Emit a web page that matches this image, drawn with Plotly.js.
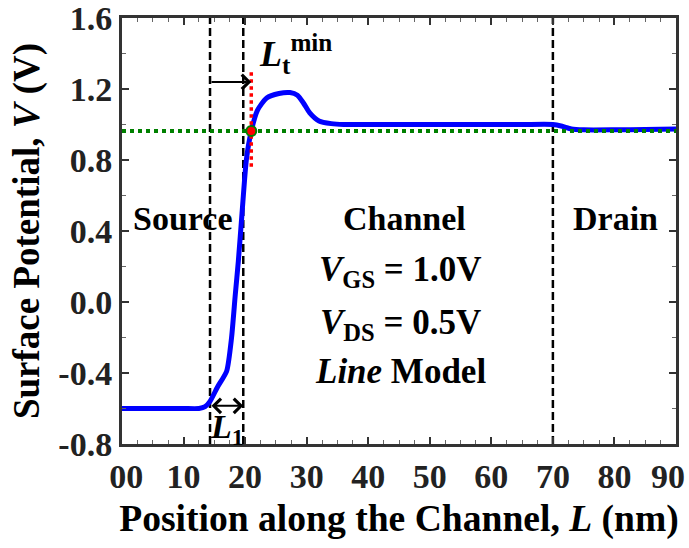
<!DOCTYPE html>
<html>
<head>
<meta charset="utf-8">
<script src="https://cdn.plot.ly/plotly-3.0.1.min.js"></script>
<style>html,body{margin:0;padding:0;background:#fff;}#chart{width:689px;height:548px;}</style>
</head>
<body>
<div id="chart"></div>
<script>
// Surface potential along the channel
const positionNm = [0, 5, 10, 12.5, 13.5, 14.3, 15.5, 17.0, 17.8, 18.4, 18.9, 19.5, 20.2, 21.0, 22.0, 23.5, 25.5, 27.3, 28.5, 29.5, 30.5, 32.0, 34.0, 36.0, 45, 55, 65, 70, 71.5, 73, 75, 80, 85, 90];
const potentialV = [-0.6, -0.6, -0.6, -0.6, -0.59, -0.56, -0.48, -0.39, -0.2, 0.04, 0.23, 0.5, 0.8, 0.963, 1.08, 1.15, 1.175, 1.18, 1.165, 1.12, 1.065, 1.02, 1.005, 1.0, 1.0, 1.0, 1.0, 1.0, 0.99, 0.975, 0.97, 0.97, 0.972, 0.975];

// Region boundaries and markers
const sourceStart = 14.3;   // dashed line, start of L1
const sourceEnd = 19.7;     // dashed line, end of L1
const drainStart = 70;      // dashed line
const ltMin = 21.0;         // red dotted line / point
const thresholdV = 0.963;   // green dotted level
const xRange = [0, 90];
const yRange = [-0.8, 1.6];

const xTickVals = [0, 10, 20, 30, 40, 50, 60, 70, 80, 90];
const xTickText = ['00', '10', '20', '30', '40', '50', '60', '70', '80', '90'];
const yTickVals = [-0.8, -0.4, 0.0, 0.4, 0.8, 1.2, 1.6];
const yTickText = ['-0.8', '-0.4', '0.0', '0.4', '0.8', '1.2', '1.6'];

const FONT = 'Liberation Serif, Times New Roman, serif';
const TICKFONT = {family: FONT, size: 34, color: '#222', weight: 'bold'};
const dashed = (x) => ({x: [x, x], y: yRange, mode: 'lines', line: {color: '#000', width: 2.5, dash: '8px,4px'}, hoverinfo: 'skip', showlegend: false});

const traces = [
  dashed(sourceStart), dashed(sourceEnd), dashed(drainStart),
  {x: positionNm, y: potentialV, mode: 'lines', line: {color: '#0000ff', width: 5, shape: 'spline', smoothing: 0.6}, showlegend: false},
  {x: xRange, y: [thresholdV, thresholdV], mode: 'lines', line: {color: '#008000', width: 4, dash: 'dot'}, showlegend: false},
  {x: [ltMin, ltMin], y: [0.762, 1.30], mode: 'lines', line: {color: '#ff0000', width: 3.5, dash: 'dot'}, showlegend: false},
  {x: [ltMin], y: [thresholdV], mode: 'markers', marker: {color: '#ff0000', size: 10, line: {color: '#008000', width: 2}}, showlegend: false}
];

const txt = (x, y, text, size) => ({x, y, xref: 'x', yref: 'y', text, showarrow: false, font: {family: FONT, size: size || 34, color: '#000'}, xanchor: 'center', yanchor: 'middle'});

// last x tick label drawn as an annotation so it stays inside the page edge
const lastIdx = xTickVals.length - 1;
const shownTickText = xTickText.map((t, i) => (i === 0 ? '\u00A0' + t : (i === lastIdx ? '' : t)));

const annotations = [
  txt(9.9, 0.47, '<b>Source</b>'),
  txt(45.9, 0.47, '<b>Channel</b>'),
  txt(80.1, 0.47, '<b>Drain</b>'),
  txt(45.2, 0.17, '<b><i>V</i><sub>GS</sub> = 1.0V</b>', 35),
  txt(45.2, -0.125, '<b><i>V</i><sub>DS</sub> = 0.5V</b>', 35),
  txt(45.2, -0.39, '<b><i>Line</i> Model</b>', 35),
  {x: 22.0, y: 1.40, xref: 'x', yref: 'y', text: '<b><i>L</i><sub>t</sub><sup>min</sup></b>', showarrow: false, font: {family: FONT, size: 36, color: '#000'}, xanchor: 'left', yanchor: 'middle'},
  {x: 17.0, y: -0.585, xref: 'x', yref: 'y', text: '<b><i>L</i><sub>1</sub></b>', showarrow: false, font: {family: FONT, size: 34, color: '#000'}, xanchor: 'center', yanchor: 'top'},
  {x: xTickVals[lastIdx], y: 0, xref: 'x', yref: 'paper', text: xTickText[lastIdx], showarrow: false, font: TICKFONT, xanchor: 'right', yanchor: 'middle', xshift: 11, yshift: -32},
  {x: ltMin, y: 1.24, ax: sourceStart, ay: 1.24, xref: 'x', yref: 'y', axref: 'x', ayref: 'y', text: '', showarrow: true, arrowhead: 4, arrowsize: 1.4, arrowwidth: 2, arrowcolor: '#000', standoff: 0},
  {x: sourceEnd, y: -0.585, ax: sourceStart, ay: -0.585, xref: 'x', yref: 'y', axref: 'x', ayref: 'y', text: '', showarrow: true, arrowhead: 4, startarrowhead: 4, arrowside: 'end+start', arrowsize: 1.4, startarrowsize: 1.4, arrowwidth: 2, arrowcolor: '#000', standoff: 0, startstandoff: 0}
];

const axisCommon = {
  showgrid: false, zeroline: false, showline: true, linecolor: '#333', linewidth: 3,
  mirror: 'allticks', ticks: 'inside', ticklen: 7, tickwidth: 2, tickcolor: '#333',
  tickfont: TICKFONT,
  tickmode: 'array', ticklabeloverflow: 'allow'
};

const layout = {
  width: 689, height: 548,
  margin: {l: 122, r: 13, t: 18, b: 104},
  paper_bgcolor: '#fff', plot_bgcolor: '#fff',
  xaxis: Object.assign({}, axisCommon, {
    range: [xRange[0] - 0.0001, xRange[1] + 0.0001], tickvals: xTickVals, ticktext: shownTickText,
    minor: {ticks: 'inside', ticklen: 4, tickwidth: 1, tickcolor: '#666', dtick: 2.5, tick0: 0},
    title: {text: '<b>Position along the Channel, <i>L</i> (nm)</b>', font: {family: FONT, size: 37.6, color: '#000'}, standoff: 11}
  }),
  yaxis: Object.assign({}, axisCommon, {
    range: [yRange[0] - 0.0001, yRange[1] + 0.0001], tickvals: yTickVals, ticktext: yTickText,
    minor: {ticks: 'inside', ticklen: 4, tickwidth: 1, tickcolor: '#666', dtick: 0.2, tick0: 0},
    title: {text: '<b>Surface Potential, <i>V</i> (V)</b>', font: {family: FONT, size: 37, color: '#000'}, standoff: 8}
  }),
  annotations: annotations,
  showlegend: false
};

Plotly.newPlot('chart', traces, layout, {displayModeBar: false, staticPlot: true});
</script>
</body>
</html>
